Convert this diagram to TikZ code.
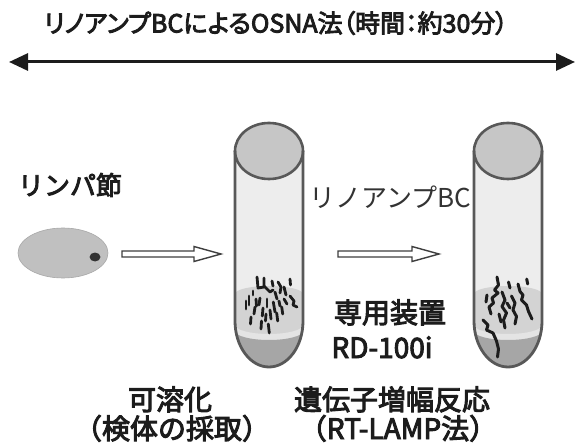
\documentclass[tikz,border=0pt]{standalone}
\usepackage{fontspec}
\setmainfont{Noto Sans CJK JP}
\newfontfamily\jpheavy{Noto Sans CJK JP}[FakeBold=3.5]
\newfontfamily\jpheavyprop{Noto Sans CJK JP}[RawFeature=+palt, FakeBold=3.5]
\usetikzlibrary{arrows.meta,shapes.geometric}

\definecolor{ink}{HTML}{1C1C1C}
\definecolor{labelgray}{HTML}{333333}
\definecolor{tubeline}{HTML}{585858}
\definecolor{capfill}{HTML}{C6C6C6}
\definecolor{glass}{HTML}{EDEDED}
\definecolor{liquid}{HTML}{D3D3D3}
\definecolor{band}{HTML}{E4E4E4}
\definecolor{sediment}{HTML}{A6A6A6}
\definecolor{nodefill}{HTML}{C0C0C0}
\definecolor{nodeedge}{HTML}{A8A8A8}

\tikzset{
  label/.style={font=\jpheavy\fontsize{#1}{#1}\selectfont, text=ink, inner sep=0pt, anchor=base},
  headlabel/.style={font=\jpheavyprop\fontsize{#1}{#1}\selectfont, text=ink, inner sep=0pt, anchor=base},
  thinlabel/.style={font=\fontsize{#1}{#1}\selectfont, text=labelgray, inner sep=0pt, anchor=base},
  timeline/.style={draw=ink, line width=3pt,
    {Triangle[length=19pt,width=17pt]}-{Triangle[length=19pt,width=17pt]}},
  hollowline/.style={draw=ink!85, line width=1.4pt, fill=white, line join=miter},
  fragment/.style={draw=ink, line width=2.8pt, line cap=round, line join=round},
  strand/.style={draw=ink, line width=3pt, line cap=round, line join=round},
  % open block arrow of length #1 pointing to +x
  pics/blockarrow/.style={code={
    \path[hollowline] (0,-3) -- (#1-27,-3) -- (#1-27,-7.5) -- (#1,0)
      -- (#1-27,7.5) -- (#1-27,3) -- (0,3) -- cycle;
  }},
  % test tube contents, origin at the centre of the opening
  pics/testtube/.style={code={
    \path[fill=glass] (-34,0) -- (-34,170) arc[start angle=180,end angle=0,x radius=34,y radius=46] -- (34,0) -- cycle;
    \begin{scope}
      \clip (-34,0) -- (-34,170) arc[start angle=180,end angle=0,x radius=34,y radius=46] -- (34,0) -- cycle;
      \fill[liquid] (-34,143) arc[start angle=180,end angle=360,x radius=34,y radius=8]
        -- (34,230) -- (-34,230) -- cycle;
      \fill[band] (-34,174) arc[start angle=180,end angle=0,x radius=34,y radius=9]
        -- (34,230) -- (-34,230) -- cycle;
      \fill[sediment] (-34,180) arc[start angle=180,end angle=0,x radius=34,y radius=9]
        -- (34,230) -- (-34,230) -- cycle;
    \end{scope}
  }},
  % test tube wall and opening
  pics/tubeglass/.style={code={
    \draw[tubeline, line width=2.6pt, fill=capfill] (0,0) ellipse[x radius=34, y radius=28];
    \draw[tubeline, line width=2.8pt] (-34,0) -- (-34,170)
      arc[start angle=180,end angle=0,x radius=34,y radius=46] -- (34,0);
  }},
}

\begin{document}
\begin{tikzpicture}[x=1pt,y=-1pt]
\useasboundingbox (0,0) rectangle (577,443);

% heading and time span
\node[headlabel=25] (title) at (276,32.5) {リノアンプBCによるOSNA法（時間：約30分）};
\coordinate (spanL) at (9,62);
\coordinate (spanR) at (575,62);
\draw[timeline] (spanL) -- (spanR);

% lymph node
\node[label=26] (lnlabel) at (70,195) {リンパ節};
\node[ellipse, fill=nodefill, draw=nodeedge, line width=0.6pt,
      minimum width=90pt, minimum height=50pt, inner sep=0pt] (lymph) at (63,253) {};
\fill[ink!90] (95,257) ellipse[x radius=5.5, y radius=4.5];

% test tubes
\coordinate (tubeA) at (269,151);
\coordinate (tubeB) at (508,151);
\pic at (tubeA) {testtube};
\pic at (tubeB) {testtube};

% dissolved sample: short fragments
\begin{scope}[shift={(tubeA)}]
  \draw[fragment] (-12,126) -- (-11,137) -- (-5,136) -- (-5,127);
  \draw[fragment] (-5,135) -- (1,141) -- (4,139);
  \draw[fragment] (-20,145) -- (-20,154);
  \draw[fragment] (-14,156) -- (-15,163);
  \draw[fragment] (-18,166) -- (-18.5,173);
  \draw[fragment] (-9,147) -- (-10,154);
  \draw[fragment] (-6,157) -- (-6.7,165);
  \draw[fragment] (-2,148) -- (-2,156);
  \draw[fragment] (1,159) -- (2,168);
  \draw[fragment] (4.3,151) -- (6,161);
  \draw[fragment] (-0.7,173) -- (0.3,182);
  \draw[fragment] (-7.5,170) -- (-8,178);
  \draw[fragment] (7.7,162) -- (8.7,170);
  \draw[fragment] (12.7,156) -- (13.7,163);
  \draw[fragment] (15,136) -- (17,144);
  \draw[fragment] (21,128) -- (21.5,134);
  \draw[fragment] (21,145) -- (25,150) -- (24,154) -- (28,156);
  \draw[fragment] (9,131) -- (12,136) -- (11,142);
  \draw[fragment] (6,141) -- (8,148);
  \draw[fragment] (-13,148) -- (-12.5,155);
  \draw[fragment] (3,130) -- (4,135);
  \draw[fragment] (15,148) -- (18,153);
  \draw[fragment] (-23,150) -- (-23,158);
  \draw[fragment] (-3,163) -- (-3.5,170);
  \draw[fragment] (10,150) -- (11,155);
  \draw[fragment] (-16,140) -- (-16,144);
\end{scope}

% amplified product: long strands
\begin{scope}[shift={(tubeB)}]
  \draw[strand] (-11,126) -- (-9.5,134) -- (-13.5,139) -- (-10,142) -- (-16,147)
    -- (-14.5,152) -- (-19,156) -- (-17,163);
  \draw[strand] (-25,169) -- (-20,174) -- (-21.5,179) -- (-15,182) -- (-11.5,190)
    -- (-9.5,198) -- (-10.5,206);
  \draw[strand] (-6,141) -- (-3,149) -- (-6,155.5) -- (-1.5,162) -- (-4.5,169) -- (-3,177);
  \draw[strand] (10,133) -- (12,140.5) -- (15,144) -- (13.5,149) -- (18.5,154)
    -- (20.5,160.5) -- (24,168);
  \draw[strand] (3.5,145) -- (7,152) -- (5,159) -- (8.5,165.5) -- (7,173);
  \draw[strand] (18.7,128) -- (19.7,133);
  \draw[strand] (0.5,131) -- (2,137);
  \draw[strand] (-1,152) -- (2,157);
  \draw[strand] (-9,163) -- (-7,171);
  \draw[strand] (-21,144) -- (-22,151);
\end{scope}

\pic at (tubeA) {tubeglass};
\pic at (tubeB) {tubeglass};

% process arrows
\coordinate (arrowA) at (122,254);
\coordinate (arrowB) at (338,254);
\pic at (arrowA) {blockarrow=99};
\pic at (arrowB) {blockarrow=101};

% labels
\node[thinlabel=26] (reagent) at (390,208) {リノアンプBC};
\node[label=28] (device) at (390,323) {専用装置};
\node[label=28] (model) at (382,358) {RD-100i};
\node[label=28] (stepA) at (170,410) {可溶化};
\node[label=28] (stepAsub) at (172,439) {（検体の採取）};
\node[label=28] (stepB) at (392,410) {遺伝子増幅反応};
\node[label=28] (stepBsub) at (398,439) {（RT-LAMP法）};
\end{tikzpicture}
\end{document}
